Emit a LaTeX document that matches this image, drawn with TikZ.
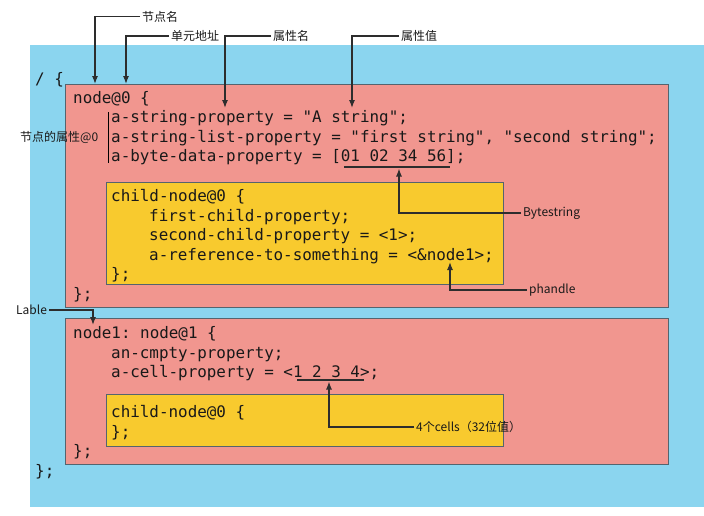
\documentclass[tikz,border=0pt]{standalone}
\usepackage{fontspec}
\setmonofont{DejaVu Sans Mono}
\newfontfamily\cjk{Noto Sans CJK SC}
\usetikzlibrary{arrows.meta}

\definecolor{rootblue}{RGB}{139,213,239}
\definecolor{nodered}{RGB}{241,150,143}
\definecolor{childyellow}{RGB}{248,202,46}
\definecolor{edgegray}{RGB}{85,100,110}
\definecolor{calloutgray}{RGB}{45,45,45}

\begin{document}
\begin{tikzpicture}[x=1pt, y=-1pt,
            code/.style={anchor=west, inner sep=0pt, text height=15pt, text depth=3.7pt,
                         font=\ttfamily\fontsize{15.9}{19}\selectfont, text=black!90},
            note/.style={anchor=west, inner sep=2pt, font=\cjk\fontsize{12}{14}\selectfont, text=black!90},
            box/.style={draw=edgegray, line width=0.8pt},
            callout/.style={-{Latex[length=8pt,width=6pt]}, draw=calloutgray, line width=1.2pt},
            uline/.style={draw=calloutgray, line width=1.2pt}
        ]
            \useasboundingbox (0,0) rectangle (704,515);

            % Boxes
            \fill[rootblue] (30,45) rectangle (704,507);
            \filldraw[box, fill=nodered] (65.5,84) rectangle (668,307);
            \filldraw[box, fill=childyellow] (106,182) rectangle (503,284);
            \filldraw[box, fill=nodered] (65.5,318) rectangle (668,464);
            \filldraw[box, fill=childyellow] (106,394) rectangle (503,446);

            % Root
            \node[code] (root) at (35,79) {/ \{};
            \node[code] (rootend) at (35,471) {\};};

            % node@0
            \node[code] (n0) at (73,97.5) {node@0 \{};
            \node[code] (p1) at (111,117) {a-string-property = "A string";};
            \node[code] (p2) at (111,136.5) {a-string-list-property = "first string", "second string";};
            \node[code] (p3) at (111,156) {a-byte-data-property = [01 02 34 56];};
            \node[code] (c0) at (111,196) {child-node@0 \{};
            \node[code] (cp1) at (149,215.5) {first-child-property;};
            \node[code] (cp2) at (149,235) {second-child-property = <1>;};
            \node[code] (cp3) at (149,254.5) {a-reference-to-something = <\&node1>;};
            \node[code] (c0end) at (111,274) {\};};
            \node[code] (n0end) at (73,294) {\};};
            \draw[black, line width=1pt] ([xshift=-3pt,yshift=-5pt]p1.north west) -- ([xshift=-3pt,yshift=3pt]p3.south west);

            % node@1
            \node[code] (n1) at (73,333) {node1: node@1 \{};
            \node[code] (q1) at (111,352.5) {an-cmpty-property;};
            \node[code] (q2) at (111,372) {a-cell-property = <1 2 3 4>;};
            \node[code] (c1) at (111,412) {child-node@0 \{};
            \node[code] (c1end) at (111,431.5) {\};};
            \node[code] (n1end) at (73,451) {\};};

            % Underlines
            \draw[uline] (344,167) -- (450,167);
            \draw[uline] (297,380) -- (364,380);

            % Labels
            \node[note] (lblname) at (140,16.7) {节点名};
            \node[note] (lblunit) at (169,36) {单元地址};
            \node[note] (lblprop) at (271,36) {属性名};
            \node[note] (lblval) at (399,36) {属性值};
            \node[note] (lblattr) at (18,137) {节点的属性@0};
            \node[note] (lblbytes) at (521,213) {Bytestring};
            \node[note] (lblph) at (527,290) {phandle};
            \node[note] (lbllable) at (14,310) {Lable};
            \node[note] (lblcells) at (414,427) {4个cells（32位值）};

            % Tips
            \coordinate (tname) at (95,84);
            \coordinate (tunit) at (126,84);
            \coordinate (tprop) at (225,108);
            \coordinate (tval) at (352,108);
            \coordinate (tbytes) at (399,168.5);
            \coordinate (tph) at (450,262);
            \coordinate (tlable) at (93,325);
            \coordinate (tcells) at (329,381.5);

            % Callouts
            \draw[callout] (lblname.west) -| (tname);
            \draw[callout] (lblunit.west) -| (tunit);
            \draw[callout] (lblprop.west) -| (tprop);
            \draw[callout] (lblval.west) -| (tval);
            \draw[callout] (lblbytes.west) -| (tbytes);
            \draw[callout] (lblph.west) -| (tph);
            \draw[callout] (lbllable.east) -| (tlable);
            \draw[callout] (lblcells.west) -| (tcells);
        \end{tikzpicture}
\end{document}
